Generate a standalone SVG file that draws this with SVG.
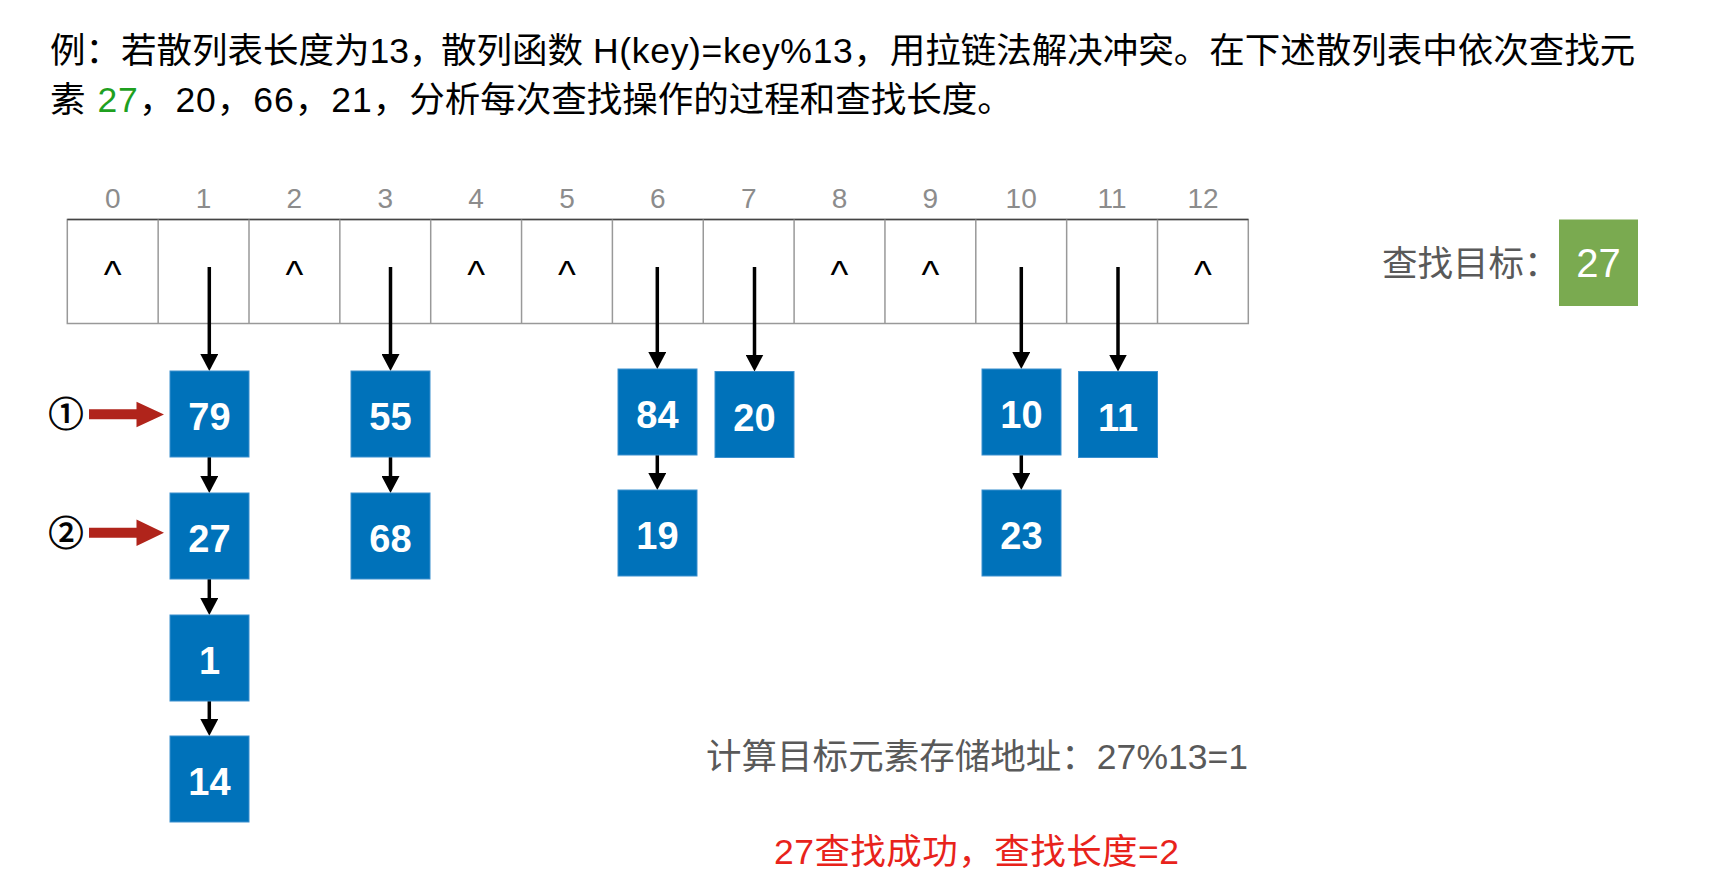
<svg xmlns="http://www.w3.org/2000/svg" width="1722" height="886" viewBox="0 0 1722 886">
<style>
.cjk{font-family:"Liberation Sans","Noto Sans CJK SC",sans-serif;}
.title{font-size:35.5px;fill:#000;}
.idx{font-family:"Liberation Sans",sans-serif;font-size:28px;fill:#8c8c8c;text-anchor:middle;}
.nul{font-family:"Liberation Sans",sans-serif;font-size:38px;fill:#000;text-anchor:middle;}
.cell{fill:none;stroke:#999;stroke-width:1.5;}
.box{fill:#0072BA;stroke:#3a8fce;stroke-width:1;}
.num{font-family:"Liberation Sans",sans-serif;font-weight:bold;font-size:38px;fill:#fff;text-anchor:middle;}
.link{stroke:#000;stroke-width:3.5;fill:none;marker-end:url(#ah);}
.red{fill:#B0241B;}
.circ{font-family:"Noto Sans CJK SC",sans-serif;font-size:35px;fill:#000;stroke:#000;stroke-width:0.9;text-anchor:middle;}
.gray{font-size:35.5px;fill:#595959;}
.res{font-size:35.5px;fill:#E8231B;}
</style>
<defs>
<marker id="ah" markerUnits="userSpaceOnUse" markerWidth="18" markerHeight="18" refX="1" refY="9" orient="auto">
<path d="M0,0 L17,9 L0,18 Z" fill="#000"/>
</marker>
</defs>
<rect width="1722" height="886" fill="#fff"/>

<g id="title">
<text class="cjk title" x="50" y="63">例：若散列表长度为13，<tspan x="441">散列函数 </tspan><tspan letter-spacing="0.7">H(key)=key%13，</tspan>用拉链法解决冲突。在下述散列表中依次查找元</text>
<text class="cjk title" x="50" y="112"><tspan letter-spacing="1">素 <tspan fill="#1FA01F">27</tspan>，20，66，21，</tspan>分析每次查找操作的过程和查找长度。</text>
</g>

<g id="indices">
<text class="idx" x="112.7" y="208">0</text>
<text class="idx" x="203.6" y="208">1</text>
<text class="idx" x="294.4" y="208">2</text>
<text class="idx" x="385.3" y="208">3</text>
<text class="idx" x="476.1" y="208">4</text>
<text class="idx" x="567" y="208">5</text>
<text class="idx" x="657.8" y="208">6</text>
<text class="idx" x="748.7" y="208">7</text>
<text class="idx" x="839.5" y="208">8</text>
<text class="idx" x="930.4" y="208">9</text>
<text class="idx" x="1021.2" y="208">10</text>
<text class="idx" x="1112.1" y="208">11</text>
<text class="idx" x="1203" y="208">12</text>
</g>

<g id="table">
<rect class="cell" x="67.3" y="219.5" width="1181" height="104"/>
<line x1="67.3" y1="219.5" x2="1248.3" y2="219.5" stroke="#444" stroke-width="1.5"/>
<g stroke="#999" stroke-width="1.5">
<line x1="158.15" y1="219.5" x2="158.15" y2="323.5"/>
<line x1="249" y1="219.5" x2="249" y2="323.5"/>
<line x1="339.85" y1="219.5" x2="339.85" y2="323.5"/>
<line x1="430.7" y1="219.5" x2="430.7" y2="323.5"/>
<line x1="521.55" y1="219.5" x2="521.55" y2="323.5"/>
<line x1="612.4" y1="219.5" x2="612.4" y2="323.5"/>
<line x1="703.25" y1="219.5" x2="703.25" y2="323.5"/>
<line x1="794.1" y1="219.5" x2="794.1" y2="323.5"/>
<line x1="884.95" y1="219.5" x2="884.95" y2="323.5"/>
<line x1="975.8" y1="219.5" x2="975.8" y2="323.5"/>
<line x1="1066.65" y1="219.5" x2="1066.65" y2="323.5"/>
<line x1="1157.5" y1="219.5" x2="1157.5" y2="323.5"/>
</g>
<text class="nul" x="112.7" y="288">^</text>
<text class="nul" x="294.4" y="288">^</text>
<text class="nul" x="476.1" y="288">^</text>
<text class="nul" x="567" y="288">^</text>
<text class="nul" x="839.5" y="288">^</text>
<text class="nul" x="930.4" y="288">^</text>
<text class="nul" x="1203" y="288">^</text>
</g>

<g id="connectors">
<line class="link" x1="209.3" y1="267" x2="209.3" y2="355"/>
<line class="link" x1="390.5" y1="267" x2="390.5" y2="355"/>
<line class="link" x1="657.3" y1="267" x2="657.3" y2="353"/>
<line class="link" x1="754.5" y1="267" x2="754.5" y2="355.5"/>
<line class="link" x1="1021.3" y1="267" x2="1021.3" y2="353"/>
<line class="link" x1="1118" y1="267" x2="1118" y2="355.5"/>
<line class="link" x1="209.3" y1="457" x2="209.3" y2="477"/>
<line class="link" x1="209.3" y1="579" x2="209.3" y2="599"/>
<line class="link" x1="209.3" y1="701" x2="209.3" y2="720"/>
<line class="link" x1="390.5" y1="457" x2="390.5" y2="477"/>
<line class="link" x1="657.3" y1="455" x2="657.3" y2="474"/>
<line class="link" x1="1021.3" y1="455" x2="1021.3" y2="474"/>
</g>

<g id="n79"><rect class="box" x="170" y="371" width="79" height="86"/><text class="num" x="209.5" y="430">79</text></g>
<g id="n27"><rect class="box" x="170" y="493" width="79" height="86"/><text class="num" x="209.5" y="552">27</text></g>
<g id="n1"><rect class="box" x="170" y="615" width="79" height="86"/><text class="num" x="209.5" y="674">1</text></g>
<g id="n14"><rect class="box" x="170" y="736" width="79" height="86"/><text class="num" x="209.5" y="795">14</text></g>
<g id="n55"><rect class="box" x="351" y="371" width="79" height="86"/><text class="num" x="390.5" y="430">55</text></g>
<g id="n68"><rect class="box" x="351" y="493" width="79" height="86"/><text class="num" x="390.5" y="552">68</text></g>
<g id="n84"><rect class="box" x="618" y="369" width="79" height="86"/><text class="num" x="657.5" y="428">84</text></g>
<g id="n19"><rect class="box" x="618" y="490" width="79" height="86"/><text class="num" x="657.5" y="549">19</text></g>
<g id="n20"><rect class="box" x="715" y="371.5" width="79" height="86"/><text class="num" x="754.5" y="430.5">20</text></g>
<g id="n10"><rect class="box" x="982" y="369" width="79" height="86"/><text class="num" x="1021.5" y="428">10</text></g>
<g id="n23"><rect class="box" x="982" y="490" width="79" height="86"/><text class="num" x="1021.5" y="549">23</text></g>
<g id="n11"><rect class="box" x="1078.5" y="371.5" width="79" height="86"/><text class="num" x="1118" y="430.5">11</text></g>

<g id="step1">
<text class="circ" x="66" y="427">①</text>
<path class="red" d="M89,409.3 H136.5 V401.7 L164,414.5 L136.5,427.3 V419.3 H89 Z"/>
</g>
<g id="step2">
<text class="circ" x="66" y="545.5">②</text>
<path class="red" d="M89,527.8 H136.5 V519.5 L164,532.7 L136.5,546 V537.8 H89 Z"/>
</g>

<g id="target">
<text class="cjk gray" x="1382" y="276">查找目标：</text>
<rect x="1559" y="219.5" width="79" height="86.5" fill="#7AAA50"/>
<text x="1598.5" y="277" font-family="Liberation Sans,sans-serif" font-size="40" fill="#fff" text-anchor="middle">27</text>
</g>

<g id="calc">
<text class="cjk gray" x="706" y="769" textLength="542">计算目标元素存储地址：27%13=1</text>
</g>
<g id="result">
<text class="cjk res" x="774" y="864" textLength="405">27查找成功，查找长度=2</text>
</g>
</svg>
